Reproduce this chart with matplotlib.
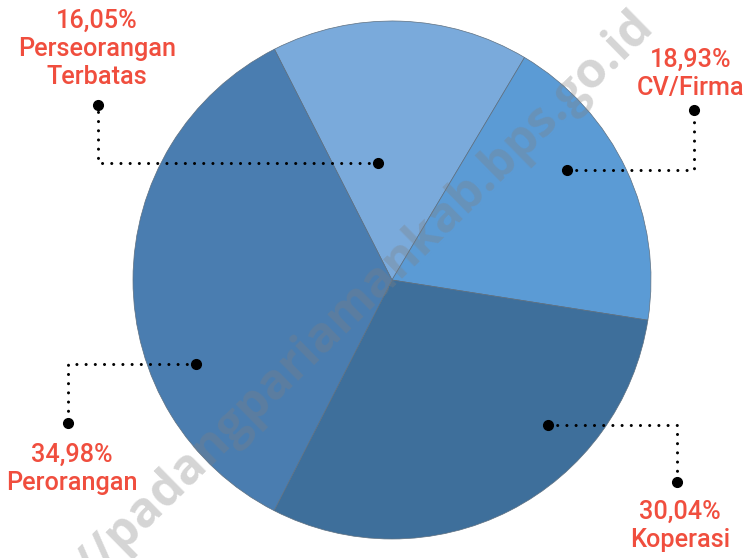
import matplotlib
matplotlib.use("Agg")
import matplotlib.pyplot as plt

# Share of business entities by legal form
categories = ["Perseorangan\nTerbatas", "CV/Firma", "Koperasi", "Perorangan"]
shares = [16.05, 18.93, 30.04, 34.98]
colors = ["#7aaadb", "#5b9bd5", "#3e6f9b", "#4a7db0"]

# leader lines: (inner point, elbow, outer point, label centre)
leaders = [
    ((378, 163), (98, 163), (98, 105), (97, 49)),
    ((567, 170), (694, 170), (694, 110), (691, 74)),
    ((548, 425), (677, 425), (677, 482), (680, 526)),
    ((196, 364), (68, 364), (68, 423), (72, 469)),
]

W, H = 746, 558
fig = plt.figure(figsize=(W / 100, H / 100), dpi=100)
ax = fig.add_axes([0, 0, 1, 1])

# y axis runs downwards, so angles are mirrored: start at -117 deg and
# sweep counter-clockwise in data space (clockwise on screen)
ax.pie(shares, colors=colors, startangle=-117, counterclock=True,
       center=(392, 280), radius=259, frame=True,
       wedgeprops=dict(edgecolor="#5d6f80", linewidth=0.5))
ax.set_xlim(0, W)
ax.set_ylim(H, 0)
ax.set_aspect("equal")
ax.axis("off")

red = "#f04e3e"
for cat, val, (p0, p1, p2, lab) in zip(categories, shares, leaders):
    xs = [p0[0], p1[0], p2[0]]
    ys = [p0[1], p1[1], p2[1]]
    ax.plot(xs, ys, color="black", lw=2.2, dashes=(0.01, 3.0),
            dash_capstyle="round", solid_joinstyle="round", zorder=5)
    ax.plot([p0[0], p2[0]], [p0[1], p2[1]], "o", color="black",
            ms=7, zorder=6)
    txt = f"{val:.2f}%".replace(".", ",") + "\n" + cat
    ax.text(lab[0], lab[1], txt, ha="center", va="center", color=red,
            fontsize=18.2, family="Roboto", fontweight="medium",
            linespacing=1.2, zorder=7)

# site watermark, running diagonally up to the top-right
ax.text(646, 18, "https://padangpariamankab.bps.go.id", rotation=44.5,
        rotation_mode="anchor", ha="right", va="center", fontsize=35.5,
        fontweight="bold", family="Open Sans", color="#808080",
        alpha=0.33, zorder=8)

fig.savefig("out.png", dpi=100)
